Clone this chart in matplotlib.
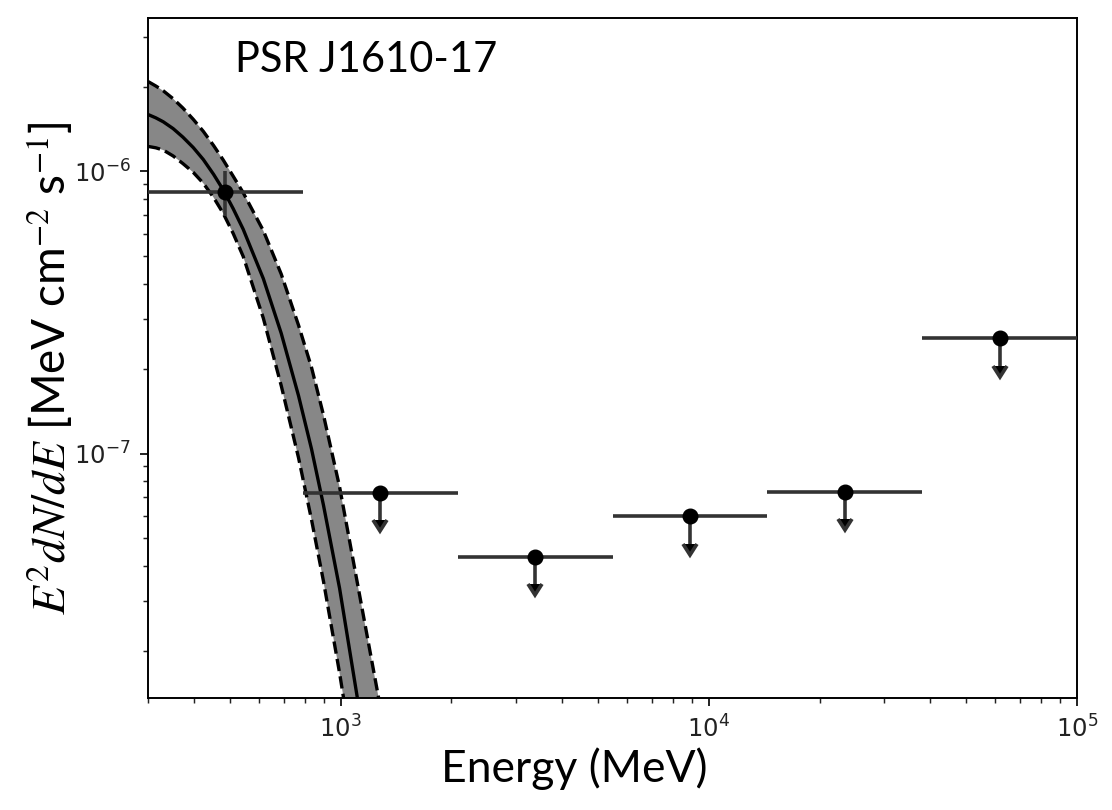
import matplotlib
matplotlib.use("Agg")
import matplotlib.pyplot as plt
import numpy as np

# Binned SED points (MeV, MeV cm^-2 s^-1)
bin_lo = [300, 790, 2080, 5480, 14400, 38000]
bin_hi = [790, 2080, 5480, 14400, 38000, 100000]
bin_center = [487, 1282, 3376, 8883, 23390, 61640]
flux = [8.45e-7, 7.25e-8, 4.30e-8, 5.99e-8, 7.31e-8, 2.56e-7]
flux_err_lo = [1.51e-7, 0, 0, 0, 0, 0]
flux_err_hi = [1.55e-7, 0, 0, 0, 0, 0]
is_upper_limit = [False, True, True, True, True, True]

# Best-fit model curve and its 1-sigma band
model_energy = [300, 315, 330, 351, 373, 398, 424, 452, 480, 511, 544,
                617, 690, 769, 834, 899, 994, 1111]
model_flux = [1.592e-6, 1.549e-6, 1.500e-6, 1.419e-6, 1.324e-6, 1.216e-6,
              1.102e-6, 9.77e-7, 8.61e-7, 7.38e-7, 6.24e-7, 4.17e-7, 2.67e-7,
              1.603e-7, 1.038e-7, 6.55e-8, 3.33e-8, 1.36e-8]

band_hi_energy = [300, 315, 330, 351, 373, 398, 424, 452, 480, 511, 544,
                  617, 690, 769, 834, 899, 994, 1269]
band_hi_flux = [2.084e-6, 2.009e-6, 1.932e-6, 1.811e-6, 1.679e-6, 1.531e-6,
                1.387e-6, 1.236e-6, 1.099e-6, 9.62e-7, 8.41e-7, 6.17e-7,
                4.33e-7, 2.85e-7, 2.02e-7, 1.368e-7, 7.62e-8, 1.36e-8]

band_lo_energy = [300, 315, 330, 351, 373, 398, 424, 452, 480, 511, 544,
                  617, 690, 769, 834, 899, 994, 1019]
band_lo_flux = [1.227e-6, 1.213e-6, 1.191e-6, 1.135e-6, 1.067e-6, 9.93e-7,
                9.08e-7, 8.09e-7, 7.11e-7, 6.03e-7, 5.00e-7, 3.02e-7, 1.742e-7,
                9.66e-8, 5.83e-8, 3.52e-8, 1.667e-8, 1.36e-8]

UL_ARROW_FRAC = 0.2

plt.rcParams["mathtext.fontset"] = "stix"
plt.rcParams["lines.markersize"] = 10.5

fig = plt.figure(figsize=(11.12, 8.10), dpi=100)
ax = fig.add_axes([0.1331, 0.1383, 0.8354, 0.8395])

# model band
band_x = np.concatenate([band_hi_energy, band_lo_energy[::-1]])
band_y = np.concatenate([band_hi_flux, band_lo_flux[::-1]])
ax.fill(band_x, band_y, color="#878787", lw=0, zorder=1)
ax.plot(band_hi_energy, band_hi_flux, color="k", ls="--", lw=2.4, zorder=2)
ax.plot(band_lo_energy, band_lo_flux, color="k", ls="--", lw=2.4, zorder=2)
ax.plot(model_energy, model_flux, color="k", lw=2.4, zorder=2)

# data points
center = np.array(bin_center, dtype=float)
f = np.array(flux)
ul = np.array(is_upper_limit)
xerr = [center - np.array(bin_lo), np.array(bin_hi) - center]
yerr_lo = np.where(ul, UL_ARROW_FRAC * f, flux_err_lo)
yerr = [yerr_lo, np.array(flux_err_hi)]
ax.errorbar(center, f, xerr=xerr, yerr=yerr, uplims=ul, fmt="o", color="k",
            ecolor="#333333", elinewidth=2.6, capsize=0, capthick=2.6,
            ms=10.5, zorder=3)

ax.set_xscale("log")
ax.set_yscale("log")
ax.set_xlim(300, 1e5)
ax.set_ylim(1.36e-8, 3.5e-6)

for s in ax.spines.values():
    s.set_linewidth(1.4)
ax.tick_params(which="major", length=6.1, width=1.4, labelsize=17.5, pad=6.1,
               colors="#222222")
ax.tick_params(which="minor", length=3.5, width=1.05, colors="#222222")

fig.text(235 / 1112, 1 - 72 / 810, "PSR J1610-17", family="Lato", fontsize=30,
         va="baseline", ha="left")
fig.text(574 / 1112, 1 - 782 / 810, "Energy (MeV)", family="Lato", fontsize=32,
         va="baseline", ha="center")
fig.text(65 / 1112, 1 - 615 / 810, r"$E^2dN/dE$", fontsize=34, rotation=90,
         rotation_mode="anchor", ha="left", va="baseline")
fig.text(65 / 1112, 1 - 430 / 810, r"[MeV cm$^{-2}$ s$^{-1}$]", family="Lato",
         fontsize=33, rotation=90, rotation_mode="anchor", ha="left", va="baseline")

fig.savefig("out.png", dpi=100)
